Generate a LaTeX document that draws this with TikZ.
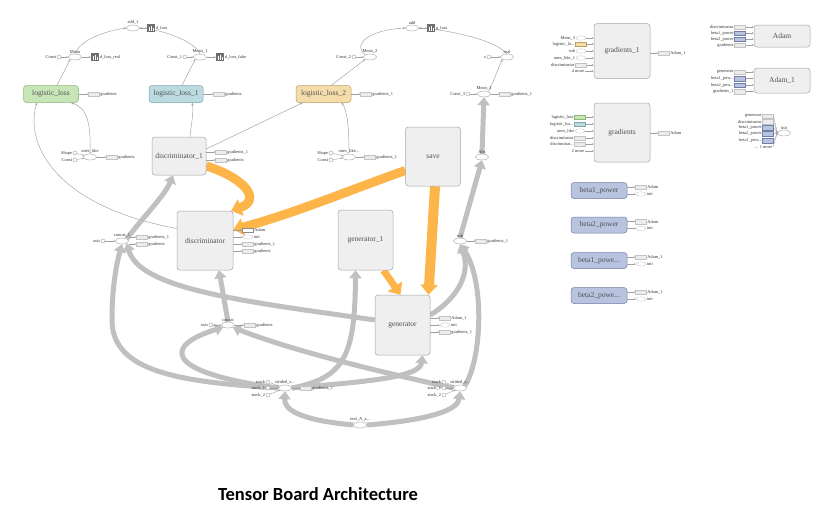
\documentclass[tikz,border=0pt]{standalone}
\usepackage{fontspec}
\setmainfont{Liberation Serif}
\newfontfamily\titlefont{Carlito}
\usetikzlibrary{shapes.geometric,arrows.meta,calc}
\pgfdeclarelayer{bg}
\pgfsetlayers{bg,main}
\definecolor{boxfill}{RGB}{239,239,239}
\definecolor{boxdraw}{RGB}{165,165,165}
\definecolor{gfill}{RGB}{199,229,183}
\definecolor{gdraw}{RGB}{140,185,120}
\definecolor{bfill}{RGB}{187,219,224}
\definecolor{bdraw}{RGB}{125,165,175}
\definecolor{tfill}{RGB}{244,221,171}
\definecolor{tdraw}{RGB}{190,160,100}
\definecolor{pfill}{RGB}{184,195,224}
\definecolor{pdraw}{RGB}{115,125,165}
\definecolor{orng}{RGB}{253,180,72}
\definecolor{thkc}{RGB}{192,192,192}
\definecolor{thn}{RGB}{160,160,160}
\definecolor{txt}{RGB}{80,80,80}
\definecolor{stubf}{RGB}{236,236,236}
\definecolor{stubd}{RGB}{195,195,195}
\definecolor{iconc}{RGB}{110,110,110}
\tikzset{
  grp/.style 2 args={draw=boxdraw, fill=boxfill, rounded corners=3pt, line width=0.5pt,
    minimum width=#1, minimum height=#2, inner sep=0pt, text=txt, font=\fontsize{7.5}{8}\selectfont},
  opnode/.style={ellipse, draw=thn, fill=white, minimum width=13pt, minimum height=6pt, inner sep=0pt, line width=0.4pt},
  oplbl/.style={anchor=south, inner sep=0.3pt, font=\fontsize{4.5}{5}\selectfont, text=black!80},
  cnode/.style={circle, draw=thn, fill=white, minimum size=4pt, inner sep=0pt, line width=0.4pt},
  lbl/.style={inner sep=0.6pt, font=\fontsize{4.4}{5}\selectfont, text=black!80},
  srect/.style={rectangle, draw=stubd, fill=stubf, minimum width=11pt, minimum height=4.5pt, inner sep=0pt, line width=0.3pt},
  sell/.style={ellipse, draw=stubd, fill=white, minimum width=10pt, minimum height=4.5pt, inner sep=0pt, line width=0.3pt},
  sumicon/.style={rectangle, fill=iconc, minimum size=8pt, inner sep=0pt},
  sarrow/.style={draw=thn, line width=0.35pt, -{Stealth[length=1.8pt,width=1.6pt]}},
  thinedge/.style={draw=thn, line width=0.45pt, -{Stealth[length=2.6pt,width=2.3pt]}},
  thickedge/.style={draw=thkc, line width=5pt, -{Triangle[length=8pt,width=12pt]}},
  orangeedge/.style={draw=orng, line width=#1, -{Triangle[length=10pt,width=17pt]}},
  orangeedge/.default=9pt
}
\newcommand\opn[4]{\node[opnode] (#1) at (#2,#3) {}; \node[oplbl] (#1-l) at ([yshift=0.2pt]#1.north) {#4};}
\newcommand\cst[5]{\node[cnode] (#1) at (#2,#3) {}; \node[lbl,anchor=east] (#1-l) at (#1.west) {#4}; \draw[sarrow] (#1) -- (#5);}
\newcommand\outs[6]{\node[#5] (#2) at (#3,#4) {}; \node[lbl,anchor=west] (#2-l) at (#2.east) {#6}; \draw[sarrow] (#1.east |- #2.west) -- (#2.west);}
\newcommand\ins[6]{\node[#5] (#2) at (#3,#4) {}; \node[lbl,anchor=east] (#2-l) at (#2.west) {#6}; \draw[sarrow] (#2.east) -- (#1.west |- #2.east);}
\newcommand\insc[6]{\node[#5] (#2) at (#3,#4) {}; \node[lbl,anchor=east] (#2-l) at (#2.west) {#6}; \draw[sarrow] (#2.east) -- (#1.west);}
\newcommand\insm[5]{\node[lbl,anchor=east] (#2) at (#3,#4) {#5}; \draw[sarrow] (#2.east) -- (#1.west |- #2.east);}
\newcommand\sicon[4]{\node[sumicon] (#1) at (#2,#3) {};
  \fill[white] ([xshift=-2.4pt,yshift=-2.6pt]#1.center) rectangle ++(0.8pt,3.2pt);
  \fill[white] ([xshift=-0.4pt,yshift=-2.6pt]#1.center) rectangle ++(0.8pt,4.8pt);
  \fill[white] ([xshift=1.6pt,yshift=-2.6pt]#1.center) rectangle ++(0.8pt,2.2pt);
  \node[lbl,anchor=west] (#1-l) at (#1.east) {#4};}
\begin{document}
\begin{tikzpicture}[x=1pt,y=-1pt]
\useasboundingbox (0,0) rectangle (835,515);
\begin{pgfonlayer}{bg}
\fill[white] (0,0) rectangle (835,515);
\end{pgfonlayer}

% ---------- top left ----------
\opn{add1}{133}{28}{add\_1}
\sicon{ic1}{151}{28}{d\_loss}
\draw[sarrow] (add1.east) -- (ic1.west);
\opn{mean}{75}{57}{Mean}
\cst{k0}{59}{57}{Const}{mean}
\sicon{ic2}{95}{57}{d\_loss\_real}
\draw[sarrow] (mean.east) -- (ic2.west);
\opn{mean1}{200}{57}{Mean\_1}
\cst{k1}{185}{57}{Const\_1}{mean1}
\sicon{ic3}{220}{57}{d\_loss\_fake}
\draw[sarrow] (mean1.east) -- (ic3.west);
\node[grp={55pt}{17pt},fill=gfill,draw=gdraw] (ll) at (51,94) {logistic\_loss};
\outs{ll}{llg}{94}{94}{srect}{gradients}
\node[grp={54pt}{17pt},fill=bfill,draw=bdraw] (ll1) at (176,94) {logistic\_loss\_1};
\outs{ll1}{ll1g}{219}{94}{srect}{gradients}

% ---------- top middle ----------
\opn{add}{412}{28}{add}
\sicon{ic4}{431}{28}{g\_loss}
\draw[sarrow] (add.east) -- (ic4.west);
\opn{mean2}{370}{57}{Mean\_2}
\cst{k2}{354}{57}{Const\_2}{mean2}
\opn{real}{507}{57}{real}
\cst{kx}{489}{57}{x}{real}
\node[grp={55pt}{17pt},fill=tfill,draw=tdraw] (ll2) at (323.5,94) {logistic\_loss\_2};
\outs{ll2}{ll2g}{366}{94}{srect}{gradients\_1}
\opn{mean3}{484}{94}{Mean\_3}
\cst{k3}{468}{94}{Const\_3}{mean3}
\outs{mean3}{m3g}{505}{94}{srect}{gradients\_1}

% ---------- right column ----------
\node[grp={56pt}{55pt}] (grad1) at (622,51) {gradients\_1};
\ins{grad1}{g1a}{581}{38}{sell}{Mean\_3}
\ins{grad1}{g1b}{581}{44}{srect,fill=tfill,draw=tdraw}{logistic\_lo...}
\ins{grad1}{g1c}{581}{51}{sell}{sub}
\ins{grad1}{g1d}{581}{58}{sell}{ones\_like\_1}
\ins{grad1}{g1e}{581}{65}{srect}{discriminator}
\insm{grad1}{g1f}{585}{71}{4 more}
\outs{grad1}{g1o}{664}{53}{srect}{Adam\_1}

\node[grp={56pt}{22pt}] (adam) at (782,36) {Adam};
\ins{adam}{a1}{740}{27}{srect}{discriminator}
\ins{adam}{a2}{740}{33}{srect,fill=pfill,draw=pdraw}{beta1\_power}
\ins{adam}{a3}{740}{39}{srect,fill=pfill,draw=pdraw}{beta2\_power}
\ins{adam}{a4}{740}{45}{srect}{gradients}

\node[grp={56pt}{25pt}] (adam1) at (782,80.5) {Adam\_1};
\ins{adam1}{b1x}{740}{72}{srect}{generator}
\ins{adam1}{b2x}{740}{78.5}{srect,fill=pfill,draw=pdraw}{beta1\_pow...}
\ins{adam1}{b3x}{740}{85}{srect,fill=pfill,draw=pdraw}{beta2\_pow...}
\ins{adam1}{b4x}{740}{91.5}{srect}{gradients\_1}

\opn{init}{784}{133}{init}
\insc{init}{n1}{768}{116}{srect}{generator}
\insc{init}{n2}{768}{121.5}{srect}{discriminator}
\insc{init}{n3}{768}{127.5}{srect,fill=pfill,draw=pdraw}{beta1\_power}
\insc{init}{n4}{768}{133.5}{srect,fill=pfill,draw=pdraw}{beta2\_power}
\insc{init}{n5}{768}{140.5}{srect,fill=pfill,draw=pdraw}{beta1\_pow...}
\node[lbl,anchor=east] (n6) at (773,147) {... 1 more};
\draw[sarrow] (n6.east) -- (init.west);

\node[grp={56pt}{59pt}] (grads) at (622,132.5) {gradients};
\ins{grads}{gr1}{580}{117}{srect,fill=gfill,draw=gdraw}{logistic\_loss}
\ins{grads}{gr2}{580}{124}{srect,fill=bfill,draw=bdraw}{logistic\_los...}
\ins{grads}{gr3}{580}{131}{sell}{ones\_like}
\ins{grads}{gr4}{580}{138}{srect}{discriminator}
\ins{grads}{gr5}{580}{144}{srect}{discriminat...}
\insm{grads}{gr6}{585}{151}{2 more}
\outs{grads}{gro}{664}{133}{srect}{Adam}

\node[grp={56pt}{16pt},fill=pfill,draw=pdraw] (bp1) at (599,190.5) {beta1\_power};
\outs{bp1}{bp1a}{641}{187}{srect}{Adam}
\outs{bp1}{bp1i}{641}{194}{sell}{init}
\node[grp={56pt}{16pt},fill=pfill,draw=pdraw] (bp2) at (599,225) {beta2\_power};
\outs{bp2}{bp2a}{641}{221.5}{srect}{Adam}
\outs{bp2}{bp2i}{641}{228.5}{sell}{init}
\node[grp={56pt}{16pt},fill=pfill,draw=pdraw] (bp3) at (599,260.5) {beta1\_powe...};
\outs{bp3}{bp3a}{641}{257}{srect}{Adam\_1}
\outs{bp3}{bp3i}{641}{264}{sell}{init}
\node[grp={56pt}{16pt},fill=pfill,draw=pdraw] (bp4) at (599,295.5) {beta2\_powe...};
\outs{bp4}{bp4a}{641}{292}{srect}{Adam\_1}
\outs{bp4}{bp4i}{641}{299}{sell}{init}

% ---------- middle ----------
\opn{ones}{90}{157}{ones\_like}
\cst{ks}{75}{153}{Shape}{ones}
\cst{kc}{75}{160}{Const}{ones}
\outs{ones}{onesg}{112}{157}{srect}{gradients}
\node[grp={54pt}{38pt}] (disc1) at (179,156) {discriminator\_1};
\outs{disc1}{d1a}{221}{152}{srect}{gradients\_1}
\outs{disc1}{d1b}{221}{160}{srect}{gradients}
\opn{ones1}{349}{157}{ones\_like...}
\cst{ks1}{331}{153}{Shape}{ones1}
\cst{kc1}{331}{160}{Const}{ones1}
\outs{ones1}{ones1g}{370}{157}{srect}{gradients\_1}
\node[grp={55pt}{59pt}] (save) at (433,156.5) {save};
\opn{abs}{482}{157}{Abs}

\opn{c1}{122}{241}{concat\_1}
\cst{ka}{103}{241}{axis}{c1}
\outs{c1}{c1a}{142}{237}{srect}{gradients\_1}
\outs{c1}{c1b}{142}{244}{srect}{gradients}
\node[grp={56pt}{59pt}] (disc) at (205,240.5) {discriminator};
\outs{disc}{da}{248}{230}{srect,fill=white,draw=black!45}{Adam}
\outs{disc}{di}{248}{237}{sell}{init}
\outs{disc}{dg1}{248}{244}{srect}{gradients\_1}
\outs{disc}{dg}{248}{251}{srect}{gradients}
\node[grp={55pt}{60pt}] (gen1) at (365.5,240) {generator\_1};
\opn{sub}{460}{241}{sub}
\outs{sub}{subg}{481}{241}{srect}{gradients\_1}

\opn{cc}{228}{325}{concat}
\cst{kb}{211}{325}{axis}{cc}
\outs{cc}{ccg}{250}{325}{srect}{gradients}
\node[grp={55pt}{60pt}] (gen) at (402.5,325) {generator};
\outs{gen}{ga}{445}{318}{srect}{Adam\_1}
\outs{gen}{gi}{445}{325}{sell}{init}
\outs{gen}{gg}{445}{332}{srect}{gradients\_1}

\opn{sL}{285}{388}{strided\_s...}
\cst{st0}{268}{382}{stack}{sL}
\cst{st1}{268}{388}{stack\_1}{sL}
\cst{st2}{268}{395}{stack\_2}{sL}
\outs{sL}{sLg}{306}{388}{srect}{gradients\_1}
\opn{sR}{460}{388}{strided\_s...}
\cst{st3}{444}{382}{stack}{sR}
\cst{st4}{444}{388}{stack\_1}{sR}
\cst{st5}{444}{395}{stack\_2}{sR}
\opn{ra}{360}{425}{real\_A\_a...}

\node[font=\titlefont\bfseries\fontsize{18.5}{22}\selectfont] (title) at (318,494) {Tensor Board Architecture};

% ---------- edges ----------
\begin{pgfonlayer}{bg}
% thin
\draw[thinedge] ([xshift=6pt]ll.north) -- (mean.south west);
\draw[thinedge] ([xshift=6pt]ll1.north) -- (mean1.south west);
\draw[thinedge] (mean.north) .. controls (80,40) and (105,31) .. (add1.west);
\draw[thinedge] (mean1.north) .. controls (195,42) and (165,30) .. (add1.east);
\draw[thinedge] ([xshift=8pt]ll2.north) -- (mean2.south west);
\draw[thinedge] (mean2.north west) .. controls (352,45) and (368,30) .. (add.west);
\draw[thinedge] (real.north) .. controls (495,40) and (450,30) .. (add.east);
\draw[thinedge] (mean3.north east) -- (real.south west);
\draw[thinedge] ([xshift=11pt]disc1.north) .. controls (191,125) and (194,112) .. ([xshift=16pt]ll1.south);
\draw[thinedge] (ones.north) .. controls (91,125) and (88,108) .. ([xshift=20pt]ll.south);
\draw[thinedge] ([yshift=12pt]disc.west) .. controls (50,205) and (25,140) .. ([xshift=-14pt]ll.south);
\draw[thinedge] ([yshift=7pt]disc1.east) -- ([xshift=-21pt]ll2.south);
\draw[thinedge] (ones1.north) .. controls (349,125) and (347,110) .. ([xshift=18pt]ll2.south);
% thick gray
\draw[thickedge] (sL.west) .. controls (180,382) and (112,372) .. (112,320) .. controls (112,285) and (117,262) .. (c1.south);
\draw[thickedge] ([yshift=5pt]gen.west) .. controls (250,302) and (140,290) .. (c1.south east);
\draw[thickedge] (sL.west) .. controls (160,372) and (165,345) .. (cc.south west);
\draw[thickedge] (sR.west) .. controls (380,372) and (290,350) .. (cc.south east);
\draw[thickedge] (sL.east) .. controls (345,378) and (355,355) .. ([xshift=-10pt]gen1.south);
\draw[thickedge] (sL.east) .. controls (360,382) and (420,378) .. ([xshift=20pt]gen.south);
\draw[thickedge] (sR.north east) .. controls (482,360) and (485,280) .. (sub.south);
\draw[thickedge] ([yshift=10pt]gen.east) .. controls (455,300) and (472,275) .. (sub.south);
\draw[thickedge] (cc.north) -- ([xshift=14pt]disc.south);
\draw[thickedge] (c1.north east) .. controls (145,215) and (165,195) .. ([xshift=-6pt]disc1.south);
\draw[thickedge] (sub.north) -- (abs.south);
\draw[thickedge] (abs.north) -- (mean3.south);
\draw[thickedge] (ra.west) .. controls (300,420) and (284,410) .. (sL.south);
\draw[thickedge] (ra.east) .. controls (430,420) and (458,410) .. (sR.south);
% orange
\draw[orangeedge] ([yshift=-10pt]disc1.east) .. controls (245,178) and (262,200) .. ([xshift=-2pt]disc.north east);
\draw[orangeedge] ([yshift=-14pt]save.west) .. controls (350,190) and (290,215) .. ([yshift=11pt]disc.east);
\draw[orangeedge=10pt] ([xshift=2pt]save.south) -- ([xshift=26pt]gen.north);
\draw[orangeedge=7pt] ([xshift=18pt]gen1.south) -- ([xshift=-2pt]gen.north);
\end{pgfonlayer}
\end{tikzpicture}
\end{document}
